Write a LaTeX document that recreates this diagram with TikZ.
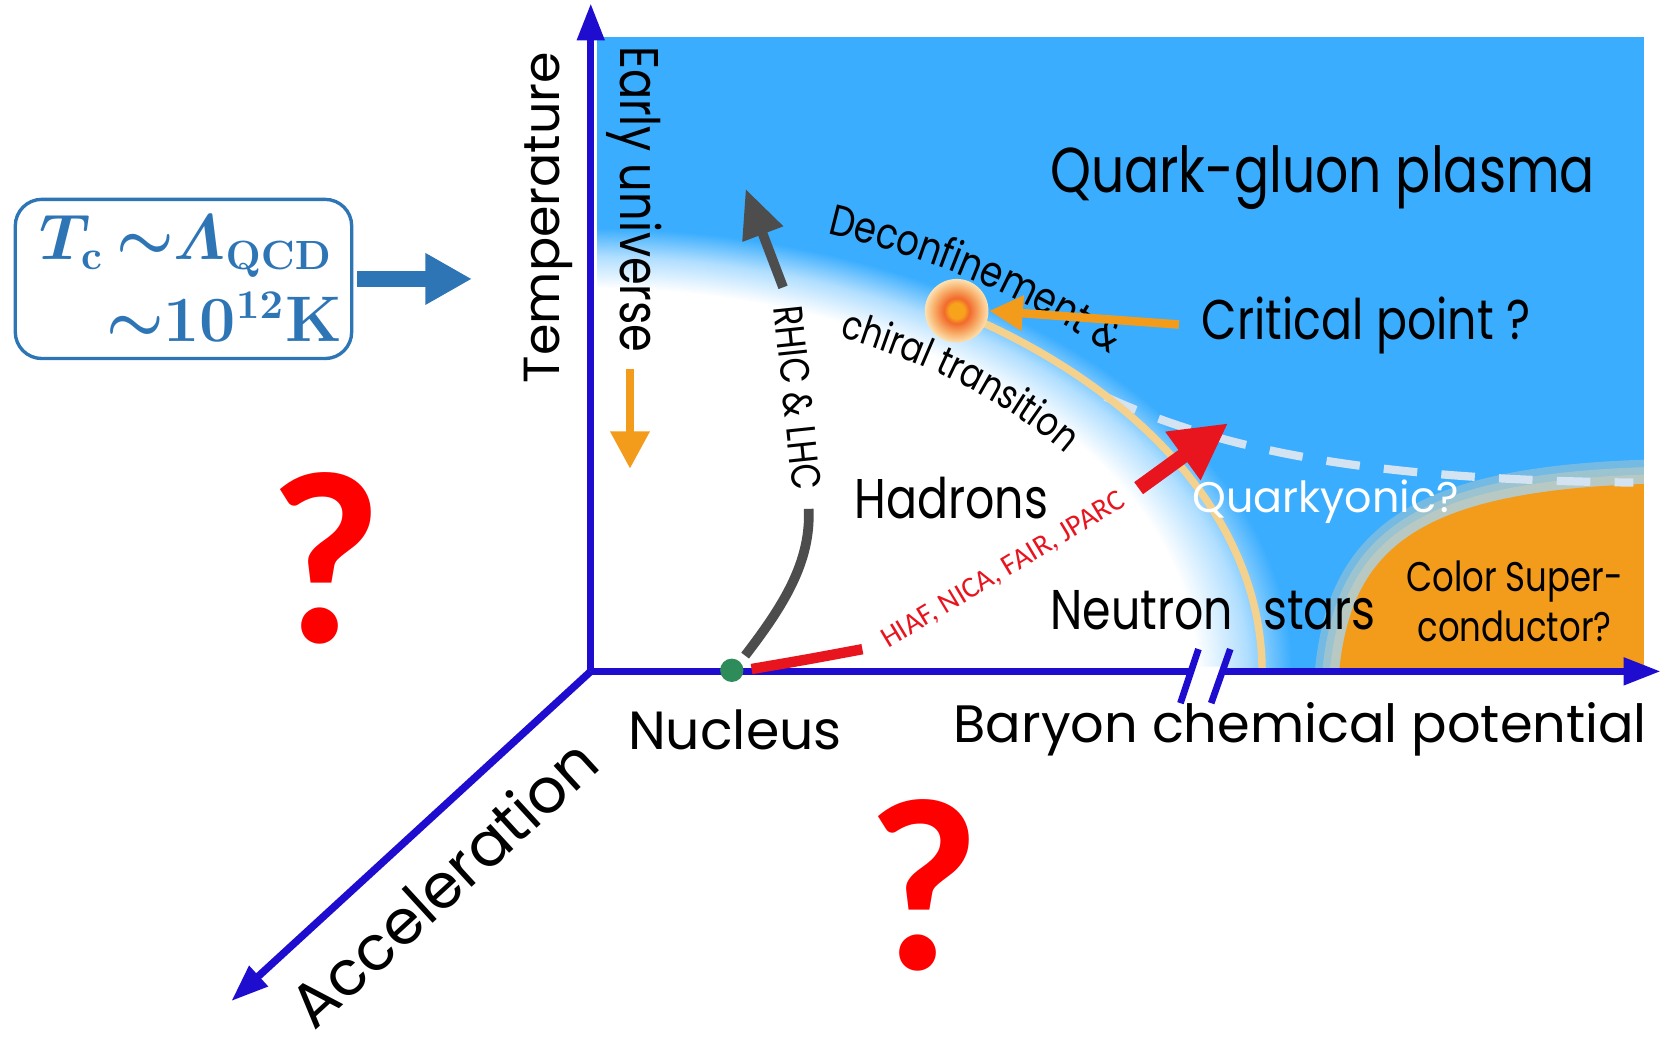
\documentclass[tikz,border=0pt]{standalone}
\usepackage{fontspec}
\usepackage{amsmath}
\usetikzlibrary{arrows.meta,decorations.text}

\newfontfamily\geo{Poppins}
\newfontfamily\geonarrow[FakeStretch=0.82]{Poppins}
\newfontfamily\cali{Carlito}
\newcommand\arcfont{\geonarrow\fontsize{11.6}{12}\selectfont}
\newcommand\chiralfont{\geonarrow\fontsize{10.8}{12}\selectfont}

\definecolor{axisblue}{HTML}{1E0CCF}
\definecolor{qgpblue}{HTML}{3AADFE}
\definecolor{cscorange}{HTML}{F39C1B}
\definecolor{rimpeach}{HTML}{FBD9A6}
\definecolor{phaseyellow}{HTML}{F5D18E}
\definecolor{beamred}{HTML}{E8141E}
\definecolor{beamgray}{HTML}{4D4D4D}
\definecolor{nucgreen}{HTML}{2E8B5A}
\definecolor{boxblue}{HTML}{2E75B6}
\definecolor{dashwhite}{HTML}{D3E3F2}
\definecolor{qmarkred}{HTML}{FF0000}
\definecolor{cpcore}{HTML}{F7A41C}
\definecolor{cpred}{HTML}{F26A2C}
\definecolor{cpmid}{HTML}{F8AE6A}
\definecolor{cppale}{HTML}{FCE2B2}
\colorlet{glowblue}{qgpblue!40}

\pgfdeclareradialshading{phaseglow}{\pgfpointorigin}{color(0bp)=(white); color(21.6bp)=(white); color(23.4bp)=(glowblue); color(25bp)=(qgpblue); color(50bp)=(qgpblue)}
\pgfdeclareradialshading{cpglow}{\pgfpointorigin}{color(0bp)=(cpcore); color(6bp)=(cpcore); color(10bp)=(cpred); color(18bp)=(cpmid); color(25bp)=(cppale); color(50bp)=(cppale)}

\begin{document}
\begin{tikzpicture}[x=0.01cm, y=-0.01cm,
	axis/.style={draw=axisblue, line width=2pt, -{Triangle[length=10pt,width=7pt]}},
	phase/.style={font=\geonarrow\fontsize{15}{17}\selectfont, inner sep=2pt},
	axislabel/.style={font=\geo\fontsize{14.4}{16}\selectfont, inner sep=2pt},
	qmark/.style={font=\cali\bfseries\fontsize{66}{66}\selectfont, text=qmarkred, inner sep=0pt},
	tctext/.style={text=boxblue, font=\fontsize{16}{18}\selectfont\boldmath, inner sep=0pt}]
	\useasboundingbox (0,0) rectangle (1568,984);

	% phase regions inside the axes
	\begin{scope}
		\clip (563,35) rectangle (1550,631);
		\fill[qgpblue] (563,35) rectangle (1550,631);
		\shade[shading=phaseglow] (557,633) ellipse [x radius=661, y radius=418];
		% colour superconductor with soft rim
		\foreach \w in {13,9,5}
			\draw[rimpeach, opacity=0.3, line width=\w pt] (1262,640) .. controls (1272,520) and (1330,462) .. (1560,456);
		\fill[cscorange] (1262,640) .. controls (1272,520) and (1330,462) .. (1560,456) -- (1560,640) -- cycle;
		% quarkyonic border
		\draw[dashwhite, line width=2.2pt, dash pattern=on 9pt off 6.5pt] (1042,374) .. controls (1160,428) and (1300,452) .. (1540,455);
		% deconfinement line
		\draw[phaseyellow, line width=2pt] plot[smooth, domain=0:57, samples=40, variable=\t] ({557+633*cos(\t)},{633-405*sin(\t)});
	\end{scope}

	% axes
	\coordinate (O) at (557,633);
	\coordinate (Ttip) at (557,3);
	\coordinate (Btip) at (1566,633);
	\coordinate (Atip) at (218,944);
	\draw[axis] (O) -- (Ttip);
	\draw[axis] (O) -- (Btip);
	\draw[axis] (O) -- (Atip);
	% axis break
	\fill[white] (1121.7,637.5) -- (1151.2,637.5) -- (1154,628.5) -- (1124.3,628.5) -- cycle;
	\draw[axisblue, line width=1.8pt] (1113,663) -- (1130,612) (1142,663) -- (1160,612);

	\node[axislabel, font=\geo\fontsize{13.6}{16}\selectfont, rotate=90] (temp) at (517,205) {Temperature};
	\node[axislabel] (nucleus) at (693,688) {Nucleus};
	\node[axislabel, font=\geo\fontsize{14.1}{16}\selectfont] (baryon) at (1226,688) {Baryon chemical potential};
	\node[axislabel, font=\geo\fontsize{16.6}{18}\selectfont, rotate=42.5, inner sep=0pt] (accel) at (418,832) {Acceleration};

	% early universe
	\node[phase, font=\geonarrow\fontsize{14.6}{16}\selectfont, rotate=-90] (early) at (598,188) {Early universe};
	\coordinate (eTop) at (594,348);
	\coordinate (eTip) at (594,442);
	\draw[cscorange, line width=2.3pt, -{Triangle[length=10pt,width=10pt]}] (eTop) -- (eTip);

	% phase labels
	\node[phase, font=\geonarrow\fontsize{17}{19}\selectfont] (qgp) at (1247,167) {Quark-gluon plasma};
	\node[phase] (hadrons) at (897,470) {Hadrons};
	\node[phase] (nstars) at (1144,575) {Neutron\hspace{8pt}stars};
	\node[phase, font=\geo\fontsize{11.5}{13}\selectfont, text=white] (quarkyonic) at (1250,473) {Quarkyonic?};
	\node[phase, font=\geonarrow\fontsize{11.1}{13.5}\selectfont, align=center] (csc) at (1428,567) {Color Super-\\conductor?};
	\path[decorate, decoration={text along path, text={|\arcfont|Deconfinement {\&}}}] plot[domain=0:34, samples=35, variable=\t] ({557+669*cos(70.5-\t)},{633-438*sin(70.5-\t)});
	\path[decorate, decoration={text along path, text={|\chiralfont|chiral transition}}] plot[domain=0:30, samples=31, variable=\t] ({557+555*cos(65-\t)},{633-348*sin(65-\t)});

	% critical point
	\node[circle, minimum size=0.6cm, inner sep=0pt, shade, shading=cpglow] (cp) at (902,293) {};
	\node[phase] (cplabel) at (1288,307) {Critical point ?};
	\draw[cscorange, line width=2.3pt, -{Triangle[length=9pt,width=9pt]}, shorten <=4pt] (cplabel.west) -- (cp.east);

	% beams from the nucleus
	\node[circle, fill=nucgreen, minimum size=0.22cm, inner sep=0pt] (nucdot) at (690,632) {};
	\node[font=\geonarrow\fontsize{11}{12}\selectfont, rotate=-84, inner sep=2pt] (rhic) at (752,375) {RHIC \& LHC};
	\coordinate (rhicTip) at (703,178);
	\draw[beamgray, line width=2.6pt, shorten <=2pt, shorten >=3pt] (nucdot.north east) .. controls (738,572) and (765,530) .. (rhic.east);
	\draw[beamgray, line width=2.6pt, -{Triangle[length=13pt,width=11pt]}, shorten <=3pt] (rhic.west) -- (rhicTip);
	\node[font=\cali\fontsize{7.9}{8}\selectfont, text=beamred, rotate=31, inner sep=2pt] (hiaf) at (946,538) {HIAF, NICA, FAIR, JPARC};
	\coordinate (hiafTip) at (1158,399);
	\draw[beamred, line width=2.8pt, shorten <=2pt, shorten >=4pt] (nucdot.east) .. controls (760,622) .. (hiaf.west);
	\draw[beamred, line width=4pt, -{Triangle[length=15pt,width=15pt]}, shorten <=3pt] (hiaf.east) -- (hiafTip);

	% critical temperature box
	\node[draw=boxblue, line width=0.9pt, rounded corners=0.25cm, minimum width=3.17cm, minimum height=1.5cm] (tcbox) at (173,263) {};
	\node[tctext, anchor=base west] (tcline) at (37,245) {$T_{\mathbf c}\,{\sim}\varLambda_{\mathbf{QCD}}$};
	\node[tctext, anchor=base east] (kline) at (323,322) {${\sim}\mathbf{10^{12}K}$};
	\coordinate (tcTip) at (445,263);
	\draw[boxblue, line width=4.2pt, -{Triangle[length=12.5pt,width=13pt]}, shorten <=1pt] (tcbox.east) -- (tcTip);

	% open questions
	\node[qmark] (qleft) at (307,526) {?};
	\node[qmark] (qbottom) at (871,835) {?};
\end{tikzpicture}
\end{document}
